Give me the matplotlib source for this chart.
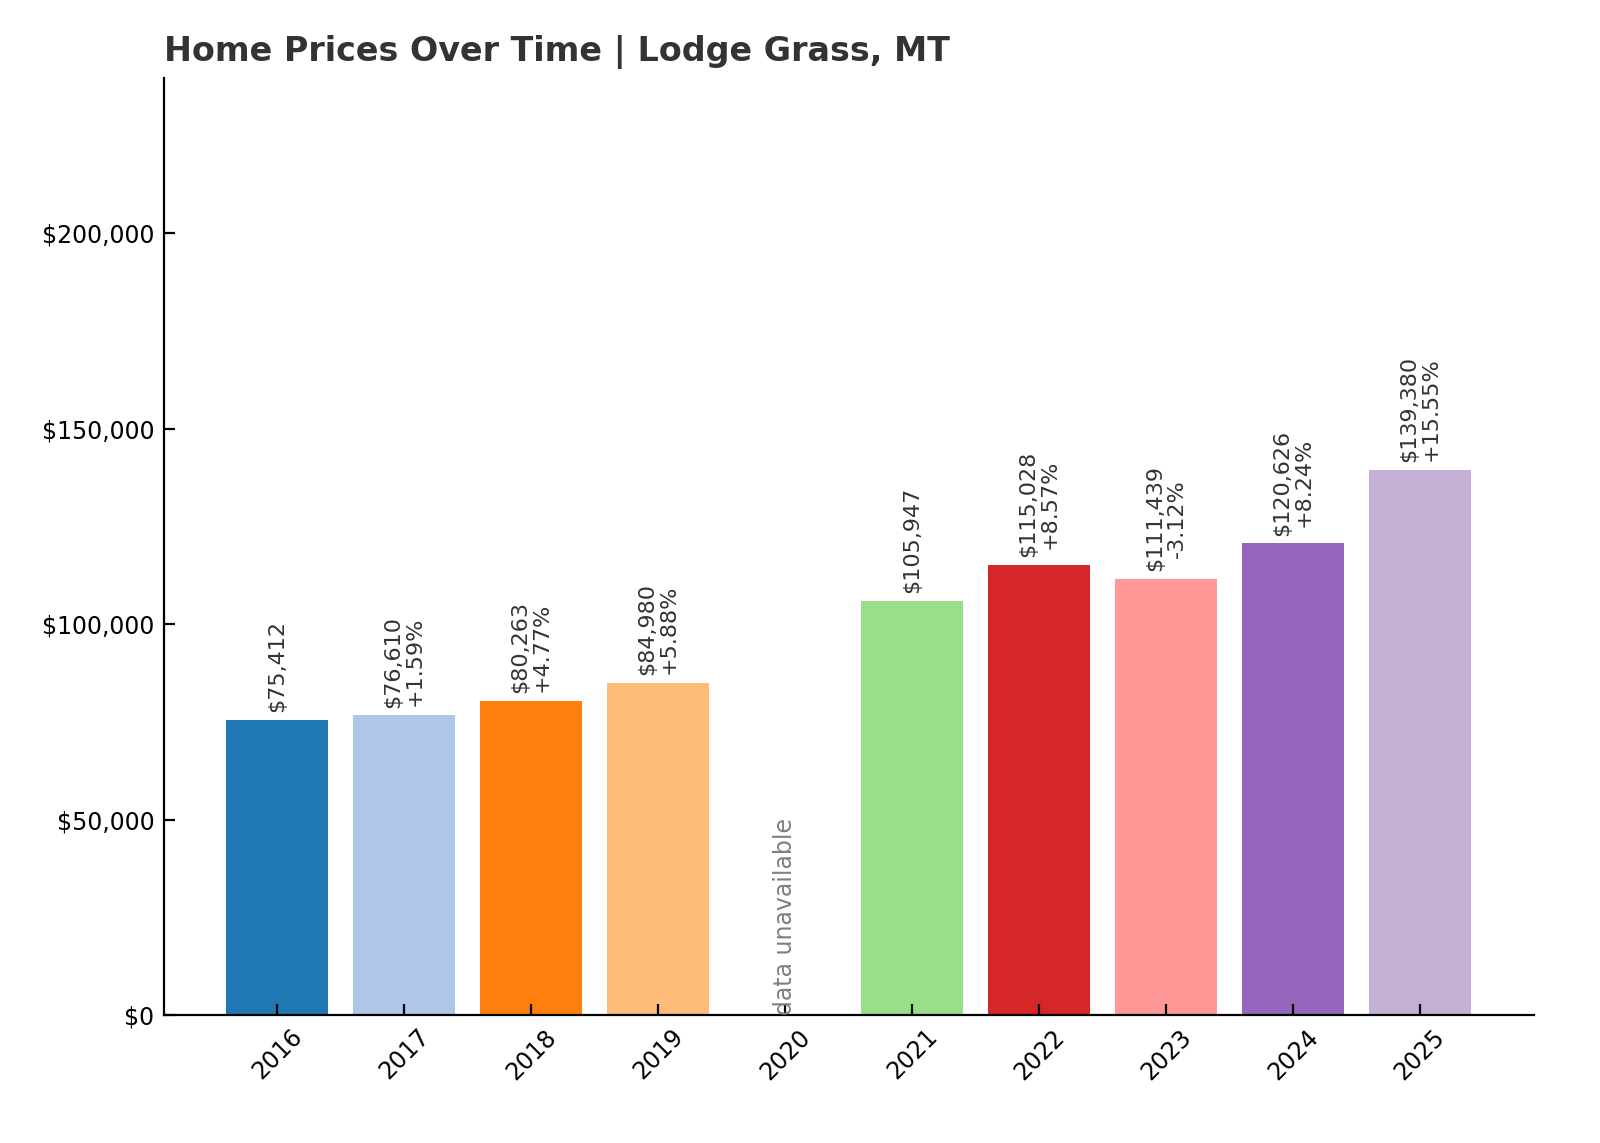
import matplotlib
matplotlib.use("Agg")
import matplotlib.pyplot as plt

years = ["2016", "2017", "2018", "2019", "2020", "2021", "2022", "2023", "2024", "2025"]
prices = [75412, 76610, 80263, 84980, None, 105947, 115028, 111439, 120626, 139380]
changes = [None, "+1.59%", "+4.77%", "+5.88%", None, None, "+8.57%", "-3.12%", "+8.24%", "+15.55%"]

colors = plt.get_cmap("tab20").colors

fig = plt.figure(figsize=(8, 5.715), dpi=200)
ax = fig.add_axes([0.1025, 0.112, 0.8565, 0.82])

x = range(len(years))
for i, (yr, p) in enumerate(zip(years, prices)):
    if p is None:
        ax.text(i, 0, "data unavailable", rotation=90, ha="center", va="bottom",
                fontsize=8.5, color="gray")
        continue
    ax.bar(i, p, width=0.8, color=colors[i])
    label = "${:,}".format(p)
    if changes[i]:
        label += "\n" + changes[i]
    ax.text(i, p + 2000, label, rotation=90, ha="center", va="bottom",
            fontsize=8, color="#333333", linespacing=1.1)

ax.set_xticks(list(x))
ax.set_xticklabels(years, rotation=45, fontsize=8.5)
ax.set_ylim(0, max(p for p in prices if p) * 1.72)
ax.set_yticks([0, 50000, 100000, 150000, 200000])
ax.set_yticklabels(["$0", "$50,000", "$100,000", "$150,000", "$200,000"], fontsize=8.5)
ax.spines["top"].set_visible(False)
ax.spines["right"].set_visible(False)
ax.tick_params(direction="in", length=4)
ax.set_xlim(-0.89, 9.9)
ax.set_title("Home Prices Over Time | Lodge Grass, MT", loc="left",
             fontsize=12, fontweight="bold", color="#333333")

fig.savefig("out.png")
